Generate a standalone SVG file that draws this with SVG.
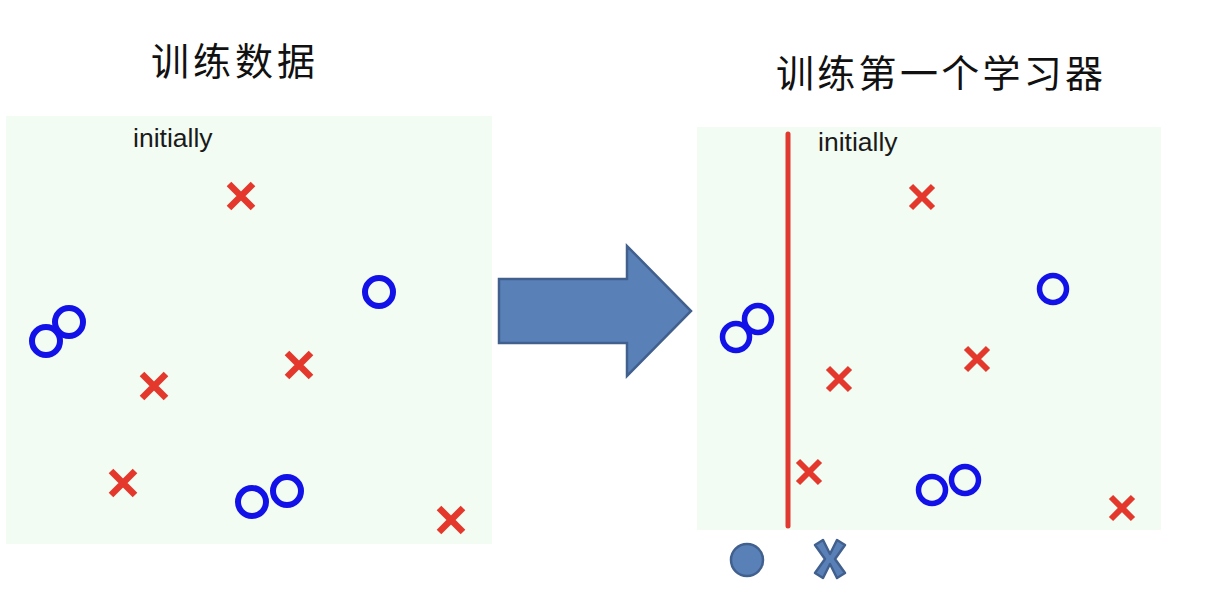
<svg xmlns="http://www.w3.org/2000/svg" width="1211" height="602" viewBox="0 0 1211 602">
  <style>
    .title { font-family: "Noto Sans CJK SC", "Noto Sans", sans-serif; font-size: 38px; fill: #111; letter-spacing: 4px; }
    .lbl { font-family: "Liberation Sans", Arial, sans-serif; font-size: 26.5px; fill: #1a1a1a; }
    .panel { fill: #f2fcf2; }
    .xl { stroke: #e3382b; stroke-width: 6.5; fill: none; }
    .xr { stroke: #e3382b; stroke-width: 6; fill: none; }
    .ol { stroke: #1212e8; stroke-width: 6; fill: none; }
    .or { stroke: #1212e8; stroke-width: 5.5; fill: none; }
  </style>
  <defs>
    <path id="xL" d="M-12,-12 L12,12 M12,-12 L-12,12"/>
    <path id="xR" d="M-11,-11 L11,11 M11,-11 L-11,11"/>
  </defs>
  <rect width="1211" height="602" fill="#ffffff"/>

  <g id="title-left"><text class="title" x="151" y="75">训练数据</text></g>
  <g id="title-right"><text class="title" x="776" y="87" style="letter-spacing:3.3px">训练第一个学习器</text></g>

  <g id="panel-left">
    <rect class="panel" x="6" y="116" width="486" height="428"/>
    <text class="lbl" x="133" y="147">initially</text>
    <g class="xl">
      <use href="#xL" x="241" y="196"/>
      <use href="#xL" x="154" y="386"/>
      <use href="#xL" x="299" y="365"/>
      <use href="#xL" x="123" y="483"/>
      <use href="#xL" x="451" y="520"/>
    </g>
    <g class="ol">
      <circle cx="379" cy="292" r="14"/>
      <circle cx="69" cy="322" r="14"/>
      <circle cx="46" cy="341" r="14"/>
      <circle cx="252" cy="502" r="14"/>
      <circle cx="287" cy="491" r="14"/>
    </g>
  </g>

  <g id="connectors">
    <polygon points="499,279 627,279 627,246 691,311 627,376 627,343 499,343" fill="#5a80b8" stroke="#41608e" stroke-width="2.5" stroke-linejoin="miter"/>
  </g>

  <g id="panel-right">
    <rect class="panel" x="697" y="127" width="464" height="403"/>
    <text class="lbl" x="818" y="151">initially</text>
    <line x1="788" y1="134" x2="788" y2="526" stroke="#e03a30" stroke-width="5" stroke-linecap="round"/>
    <g class="xr">
      <use href="#xR" x="922" y="197"/>
      <use href="#xR" x="839" y="379"/>
      <use href="#xR" x="977" y="359"/>
      <use href="#xR" x="809" y="472"/>
      <use href="#xR" x="1122" y="508"/>
    </g>
    <g class="or">
      <circle cx="1053" cy="289" r="13.5"/>
      <circle cx="758" cy="319" r="13.5"/>
      <circle cx="736" cy="337" r="13.5"/>
      <circle cx="932" cy="490" r="13.5"/>
      <circle cx="965" cy="480" r="13.5"/>
    </g>
  </g>

  <g id="legend-circle">
    <circle cx="747" cy="560" r="16" fill="#5a80b8" stroke="#41608e" stroke-width="2.5"/>
  </g>
  <g id="legend-cross">
    <polygon transform="translate(830,559)" points="-15,-14 -7,-19 0,-5 7,-19 15,-14 5,0 15,14 7,19 0,5 -7,19 -15,14 -5,0" fill="#5a80b8" stroke="#41608e" stroke-width="2.5" stroke-linejoin="round"/>
  </g>
</svg>
